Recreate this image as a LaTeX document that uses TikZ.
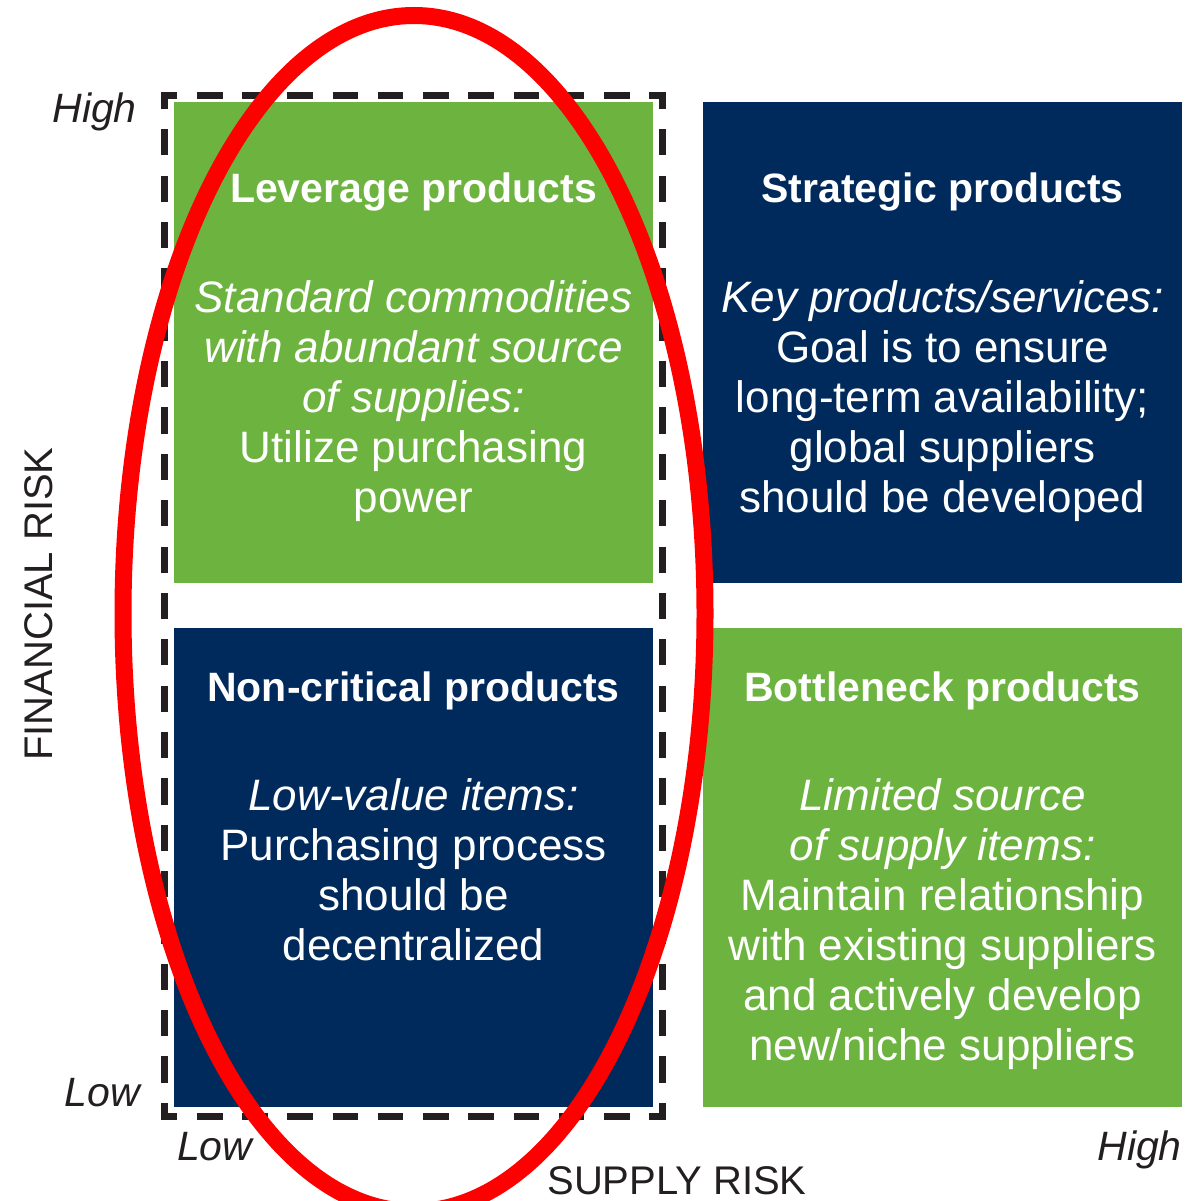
\documentclass[tikz,border=0pt]{standalone}
\usepackage{fontspec}
\setmainfont{Liberation Sans}
\usetikzlibrary{shapes.geometric}
\definecolor{lgreen}{RGB}{109,179,63}
\definecolor{navy}{RGB}{0,42,92}
\definecolor{inkgray}{RGB}{35,31,32}
\definecolor{ringred}{RGB}{255,0,0}
\begin{document}
\begin{tikzpicture}[x=1pt,y=-1pt,
  box/.style={draw=none, minimum width=479pt, inner sep=0pt, outer sep=0pt, anchor=north west},
  greenbox/.style={box, fill=lgreen},
  navybox/.style={box, fill=navy},
  titletext/.style={text=white, font=\fontsize{41}{50}\selectfont\bfseries, anchor=base, inner sep=0pt},
  bodytext/.style={text=white, font=\fontsize{44}{50}\selectfont, align=center, anchor=north, inner sep=0pt},
  axistext/.style={text=inkgray, font=\fontsize{41}{50}\selectfont\itshape, inner sep=0pt},
  axistitle/.style={text=inkgray, font=\fontsize{40}{50}\selectfont, inner sep=0pt, anchor=base},
  dashh/.style={draw=inkgray, line width=7pt, dash pattern=on 25.55pt off 19.68pt, dash phase=9.28pt},
  dashv/.style={draw=inkgray, line width=7pt, dash pattern=on 26.2pt off 20.16pt, dash phase=9.6pt},
  ring/.style={draw=ringred, line width=17pt, ellipse, inner sep=0pt, minimum width=582pt, minimum height=1196pt}
]
\useasboundingbox (0,0) rectangle (1187,1201);

% quadrant boxes
\node[greenbox, minimum height=481pt] (lev) at (174,102) {};
\node[navybox, minimum height=481pt] (strat) at (703,102) {};
\node[navybox, minimum height=479pt] (noncrit) at (174,628) {};
\node[greenbox, minimum height=479pt] (bottle) at (703,628) {};

% titles
\node[titletext] (levtitle) at (413.5,203) {Leverage products};
\node[titletext] (strattitle) at (942.5,203) {Strategic products};
\node[titletext] (noncrittitle) at (413.5,701) {Non-critical products};
\node[titletext] (bottletitle) at (942.5,701) {Bottleneck products};

% bodies
\node[bodytext] (levbody) at (413.5,272) {\rule{0pt}{40pt}\textit{Standard commodities}\\\textit{with abundant source}\\\textit{of supplies:}\\Utilize purchasing\\power};
\node[bodytext] (stratbody) at (942.5,272) {\rule{0pt}{40pt}\textit{Key products/services:}\\Goal is to ensure\\long-term availability;\\global suppliers\\should be developed};
\node[bodytext] (noncritbody) at (413.5,770) {\rule{0pt}{40pt}\textit{Low-value items:}\\Purchasing process\\should be\\decentralized};
\node[bodytext] (bottlebody) at (942.5,770) {\rule{0pt}{40pt}\textit{Limited source}\\\textit{of supply items:}\\Maintain relationship\\with existing suppliers\\and actively develop\\new/niche suppliers};

% axis labels
\node[axistext, anchor=base east] (yhigh) at (137,123) {High};
\node[axistext, anchor=base east] (ylow) at (140,1106) {Low};
\node[axistext, anchor=base west] (xlow) at (177,1160) {Low};
\node[axistext, anchor=base east] (xhigh) at (1182,1160) {High};
\node[axistitle] (xtitle) at (677,1194) {SUPPLY RISK};
\node[axistitle, rotate=90] (ytitle) at (52,604) {FINANCIAL RISK};

% dashed frame
\coordinate (dtl) at (164.5,96);
\coordinate (dtr) at (662,96);
\coordinate (dbl) at (164.5,1116);
\coordinate (dbr) at (662,1116);
\draw[dashh] ([xshift=-3.5pt]dtl) -- ([xshift=3.5pt]dtr);
\draw[dashh] ([xshift=-3.5pt]dbl) -- ([xshift=3.5pt]dbr);
\draw[dashv] ([yshift=3.5pt]dtl) -- ([yshift=-3.5pt]dbl);
\draw[dashv] ([yshift=3.5pt]dtr) -- ([yshift=-3.5pt]dbr);

% red ellipse
\node[ring] (ring) at (414,613.5) {};
\end{tikzpicture}
\end{document}
